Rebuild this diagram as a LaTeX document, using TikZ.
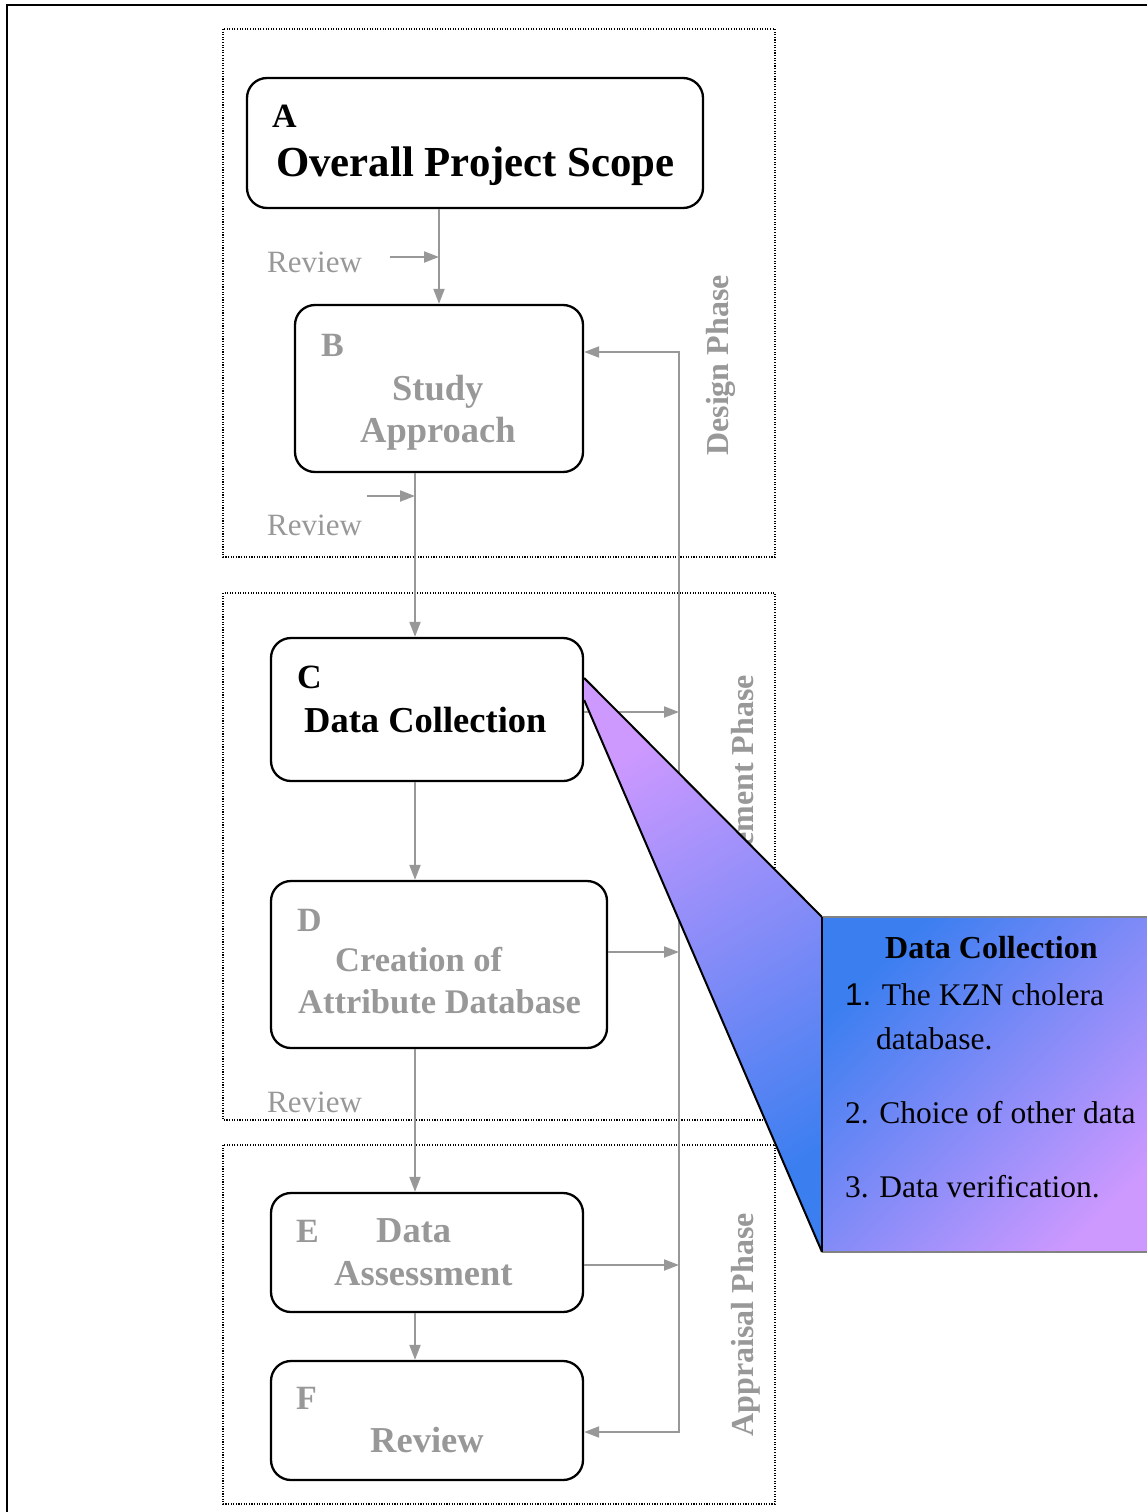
\documentclass[tikz,border=0pt]{standalone}
\usepackage{fontspec}
\setmainfont{Liberation Serif}
\newfontfamily\numfont{Liberation Sans}
\usetikzlibrary{arrows.meta}

\definecolor{tone}{RGB}{152,152,152}
\definecolor{calloutblue}{RGB}{58,126,240}
\definecolor{calloutlilac}{RGB}{206,153,255}
\definecolor{calloutedge}{RGB}{130,130,130}

% type sizes
\newcommand\fTag{\fontsize{34}{40}\selectfont\bfseries}
\newcommand\fHead{\fontsize{42.8}{50}\selectfont\bfseries}
\newcommand\fStage{\fontsize{36.5}{44}\selectfont\bfseries}
\newcommand\fAttr{\fontsize{34.5}{41}\selectfont\bfseries}
\newcommand\fNote{\fontsize{31}{37}\selectfont}
\newcommand\fPhase{\fontsize{32}{38}\selectfont\bfseries}
\newcommand\fCallHead{\fontsize{32}{38}\selectfont\bfseries}
\newcommand\fCall{\fontsize{31.5}{38}\selectfont}

\begin{document}
\begin{tikzpicture}[x=1pt,y=-1pt,
  stage/.style={draw=black, line width=2.3pt, rounded corners=20pt,
    rectangle, inner sep=0pt},
  phasebox/.style={draw=black, line width=1.1pt,
    dash pattern=on 1.1pt off 1.5pt},
  link/.style={draw=tone, line width=2pt,
    -{Triangle[length=15pt,width=11pt]}},
  twoway/.style={draw=tone, line width=2pt,
    {Triangle[length=15pt,width=11pt]}-{Triangle[length=15pt,width=11pt]}},
  txt/.style={inner sep=0pt, anchor=base west},
  dimtxt/.style={txt, text=tone},
  phaselabel/.style={inner sep=0pt, rotate=90, anchor=base east,
    text=tone, font=\fPhase},
]
\useasboundingbox (0,0) rectangle (1147,1512);
\clip (0,0) rectangle (1147,1512);

% outer frame
\draw[line width=2.6pt] (7,1530) -- (7,5) -- (1170,5);

% phase frames
\draw[phasebox] (223,29) rectangle (775,557);
\draw[phasebox] (223,593) rectangle (775,1120);
\draw[phasebox] (223,1145) rectangle (775,1504);

% stages
\node[stage, minimum width=456pt, minimum height=130pt] (A) at (475,143) {};
\node[stage, minimum width=288pt, minimum height=167pt] (B) at (439,388.5) {};
\node[stage, minimum width=312pt, minimum height=143pt] (C) at (427,709.5) {};
\node[stage, minimum width=336pt, minimum height=167pt] (D) at (439,964.5) {};
\node[stage, minimum width=312pt, minimum height=119pt] (E) at (427,1252.5) {};
\node[stage, minimum width=312pt, minimum height=119pt] (F) at (427,1420.5) {};

% stage texts
\node[txt, font=\fTag] (A-tag) at (272,127) {A};
\node[txt, font=\fHead] (A-name) at (276,176) {Overall Project Scope};
\node[dimtxt, font=\fTag] (B-tag) at (321,356) {B};
\node[dimtxt, font=\fStage] (B-name1) at (392,400) {Study};
\node[dimtxt, font=\fStage] (B-name2) at (360,442) {Approach};
\node[txt, font=\fTag] (C-tag) at (297,688) {C};
\node[txt, font=\fStage] (C-name) at (304,732) {Data Collection};
\node[dimtxt, font=\fTag] (D-tag) at (297,931) {D};
\node[dimtxt, font=\fAttr] (D-name1) at (335,971) {Creation of};
\node[dimtxt, font=\fAttr] (D-name2) at (298,1013) {Attribute Database};
\node[dimtxt, font=\fTag] (E-tag) at (296,1242) {E};
\node[dimtxt, font=\fStage] (E-name1) at (376,1242) {Data};
\node[dimtxt, font=\fStage] (E-name2) at (334,1285) {Assessment};
\node[dimtxt, font=\fTag] (F-tag) at (296,1409) {F};
\node[dimtxt, font=\fStage] (F-name) at (370,1452) {Review};

% review notes
\node[dimtxt, font=\fNote] (rev1) at (267,272) {Review};
\node[dimtxt, font=\fNote] (rev2) at (267,535) {Review};
\node[dimtxt, font=\fNote] (rev3) at (267,1112) {Review};

% main flow
\coordinate (spine) at (415,0);
\coordinate (loop) at (679,0);
\draw[link] (A.south -| B.north) -- (B.north);
\draw[link] (B.south -| spine) -- (C.north -| spine);
\draw[link] (C.south -| spine) -- (D.north -| spine);
\draw[link] (D.south -| spine) -- (E.north -| spine);
\draw[link] (E.south -| spine) -- (F.north -| spine);

% review inputs
\coordinate (r1) at (390,257);
\coordinate (r2) at (367,496);
\draw[link] (r1) -- (r1 -| B.north);
\draw[link] (r2) -- (r2 -| spine);

% outputs into the feedback loop
\coordinate (cOut) at ([yshift=-2.5pt]C.east);
\coordinate (dOut) at ([yshift=12.5pt]D.east);
\coordinate (eOut) at ([yshift=-12.5pt]E.east);
\draw[link] (cOut) -- (cOut -| loop);
\draw[link] (dOut) -- (dOut -| loop);
\draw[link] (eOut) -- (eOut -| loop);

% feedback loop
\coordinate (bIn) at ([yshift=36.5pt]B.east);
\coordinate (fIn) at ([yshift=-11.5pt]F.east);
\draw[twoway] (bIn) -- (bIn -| loop) -- (fIn -| loop) -- (fIn);

% phase labels
\node[phaselabel] (design) at (728,275) {Design Phase};
\node[phaselabel] (implement) at (753,675) {Implement Phase};
\node[phaselabel] (appraisal) at (753,1213) {Appraisal Phase};

% callout on stage C
\coordinate (tipA) at ([yshift=31.5pt]C.east);
\coordinate (tipB) at ([yshift=9.5pt]C.east);
\coordinate (bodyTL) at (822,917);
\coordinate (bodyBL) at (822,1252);
\coordinate (bodyTR) at (1170,917);
\coordinate (bodyBR) at (1170,1252);
\path[top color=calloutlilac, bottom color=calloutblue, shading angle=30]
  (tipA) -- (bodyTL) -- (bodyBL) -- (tipB) -- cycle;
\draw[line width=2pt, line join=round] (tipA) -- (bodyTL);
\draw[line width=2pt, line join=round] (tipB) -- (bodyBL);
\path[top color=calloutblue, bottom color=calloutlilac, shading angle=45]
  (bodyTL) rectangle (bodyBR);
\draw[calloutedge, line width=2.4pt] (bodyTL) -- (bodyTR);
\draw[calloutedge, line width=2.4pt] (bodyBL) -- (bodyBR);
\draw[line width=2pt] (bodyTL) -- (bodyBL);

\node[txt, font=\fCallHead] (note-head) at (885,958) {Data Collection};
\node[txt, font=\fCall] (note1) at (845,1005) {{\numfont 1.} The KZN cholera};
\node[txt, font=\fCall] (note1b) at (876,1049) {database.};
\node[txt, font=\fCall] (note2) at (845,1123) {2. Choice of other data};
\node[txt, font=\fCall] (note3) at (845,1197) {3. Data verification.};
\end{tikzpicture}
\end{document}
